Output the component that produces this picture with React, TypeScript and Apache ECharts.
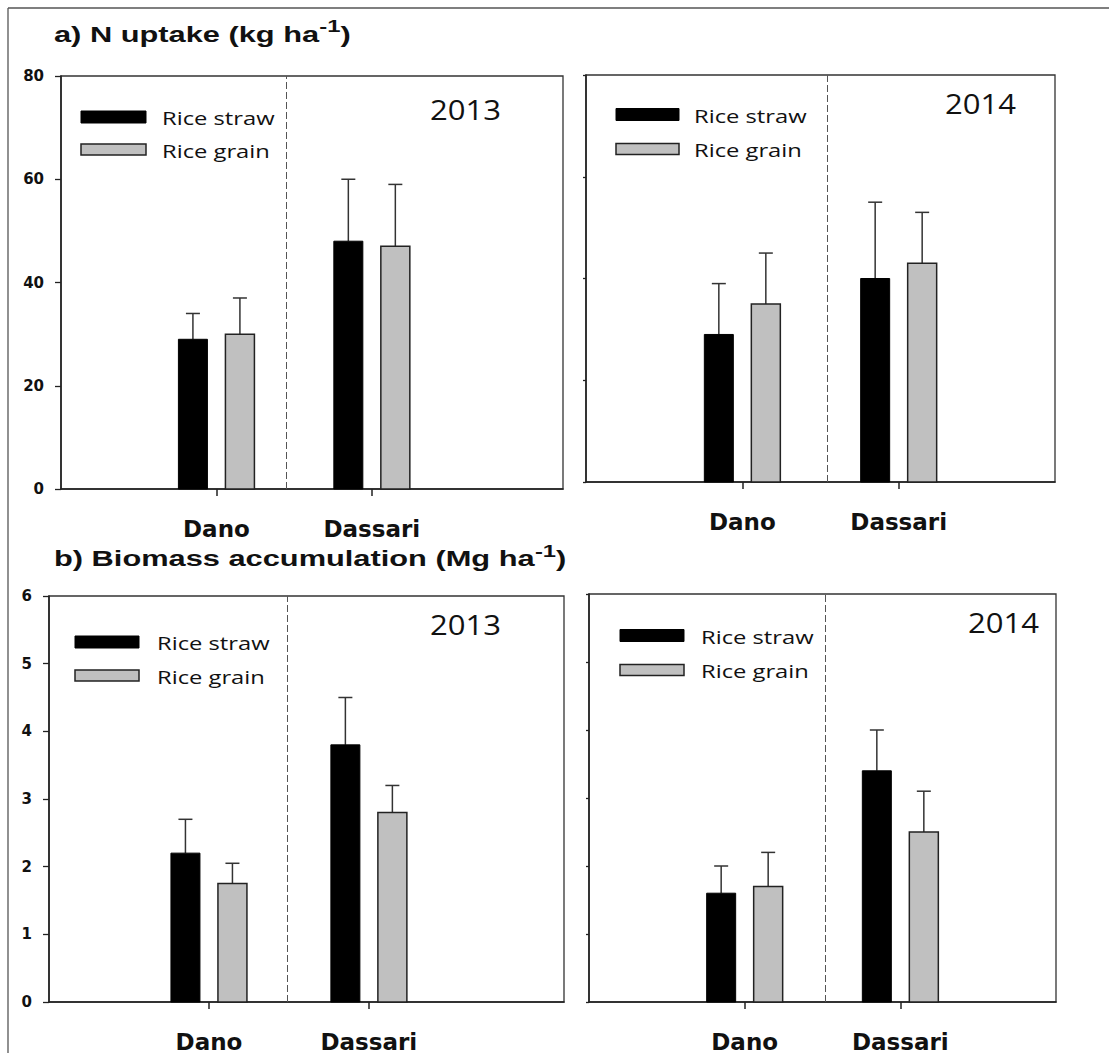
import React, { useEffect, useRef } from 'react';
import * as echarts from 'echarts';

// ---------- data ----------
const sites = ['Dano', 'Dassari'];
const sitePositions = [1, 2];
const seriesNames = ['Rice straw', 'Rice grain'];
const years = ['2013', '2014'];

// a) N uptake (kg ha-1): means and upper error (SE)
const nUptakeStraw2013 = [29, 48];
const nUptakeStraw2013SE = [5, 12];
const nUptakeGrain2013 = [30, 47];
const nUptakeGrain2013SE = [7, 12];
const nUptakeStraw2014 = [29, 40];
const nUptakeStraw2014SE = [10, 15];
const nUptakeGrain2014 = [35, 43];
const nUptakeGrain2014SE = [10, 10];

// b) Biomass accumulation (Mg ha-1)
const biomassStraw2013 = [2.2, 3.8];
const biomassStraw2013SE = [0.5, 0.7];
const biomassGrain2013 = [1.75, 2.8];
const biomassGrain2013SE = [0.3, 0.4];
const biomassStraw2014 = [1.6, 3.4];
const biomassStraw2014SE = [0.4, 0.6];
const biomassGrain2014 = [1.7, 2.5];
const biomassGrain2014SE = [0.5, 0.6];

// tick labels
const nUptakeTicks = [0, 20, 40, 60, 80];
const biomassTicks = [0, 1, 2, 3, 4, 5, 6];

const titleA = 'a) N uptake (kg ha';
const titleB = 'b) Biomass accumulation (Mg ha';

// ---------- layout ----------
const W = 1109;
const H = 1053;
const STRAW = '#000000';
const GRAIN = '#c0c0c0';
const EDGE = '#222222';

type Panel = {
  grid: { left: number; top: number; width: number; height: number };
  xMax: number;
  sep: number;
  ticks: number[];
  labels: boolean;
  straw: number[];
  strawSE: number[];
  grain: number[];
  grainSE: number[];
  year: string;
  yearPos: [number, number];
  legend: { x: number; w: number; y1: number; y2: number; tx: number };
};

const panels: Panel[] = [
  {
    grid: { left: 61, top: 76, width: 502, height: 413 },
    xMax: 3.23, sep: 1.45, ticks: nUptakeTicks, labels: true,
    straw: nUptakeStraw2013, strawSE: nUptakeStraw2013SE,
    grain: nUptakeGrain2013, grainSE: nUptakeGrain2013SE,
    year: years[0], yearPos: [430, 110],
    legend: { x: 81, w: 65, y1: 117, y2: 149.5, tx: 162 },
  },
  {
    grid: { left: 586, top: 75, width: 469, height: 407 },
    xMax: 3, sep: 1.54, ticks: nUptakeTicks, labels: false,
    straw: nUptakeStraw2014, strawSE: nUptakeStraw2014SE,
    grain: nUptakeGrain2014, grainSE: nUptakeGrain2014SE,
    year: years[1], yearPos: [945, 104],
    legend: { x: 616, w: 63, y1: 114.5, y2: 149, tx: 694 },
  },
  {
    grid: { left: 49, top: 596, width: 515, height: 407 },
    xMax: 3.22, sep: 1.49, ticks: biomassTicks, labels: true,
    straw: biomassStraw2013, strawSE: biomassStraw2013SE,
    grain: biomassGrain2013, grainSE: biomassGrain2013SE,
    year: years[0], yearPos: [430, 625],
    legend: { x: 75, w: 64, y1: 642, y2: 675.5, tx: 157 },
  },
  {
    grid: { left: 589, top: 594, width: 467, height: 408 },
    xMax: 3, sep: 1.52, ticks: biomassTicks, labels: false,
    straw: biomassStraw2014, strawSE: biomassStraw2014SE,
    grain: biomassGrain2014, grainSE: biomassGrain2014SE,
    year: years[1], yearPos: [968, 623],
    legend: { x: 620, w: 64, y1: 635.5, y2: 670, tx: 701 },
  },
];

function makeRenderItem(offsetPx: number, fill: string, stroke: boolean) {
  return (params: any, api: any) => {
    const x = api.value(0);
    const y = api.value(1);
    const e = api.value(2);
    const base = api.coord([x, 0]);
    const top = api.coord([x, y]);
    const errTop = api.coord([x, y + e]);
    const cx = base[0] + offsetPx;
    const w = 29;
    return {
      type: 'group',
      children: [
        {
          type: 'line',
          shape: { x1: cx, y1: top[1], x2: cx, y2: errTop[1] },
          style: { stroke: '#333', lineWidth: 1.5 },
        },
        {
          type: 'line',
          shape: { x1: cx - 7, y1: errTop[1], x2: cx + 7, y2: errTop[1] },
          style: { stroke: '#333', lineWidth: 1.5 },
        },
        {
          type: 'rect',
          shape: { x: cx - w / 2, y: top[1], width: w, height: base[1] - top[1] },
          style: stroke
            ? { fill, stroke: EDGE, lineWidth: 1.5 }
            : { fill, stroke: fill, lineWidth: 1 },
        },
      ],
    };
  };
}

function txt(x: number, y: number, text: string, size: number, family: string, weight: string, scaleX: number, extra: any = {}) {
  return {
    type: 'text',
    x,
    y,
    scaleX,
    style: {
      text,
      fontSize: size,
      fontFamily: family,
      fontWeight: weight,
      fill: '#111',
      align: 'left',
      verticalAlign: 'middle',
      ...extra,
    },
  };
}

function titleText(x: number, y: number, main: string) {
  return {
    type: 'text',
    x,
    y,
    scaleX: 1.4,
    style: {
      text: `{m|${main}}{s|-1}{m|)}`,
      align: 'left',
      verticalAlign: 'middle',
      rich: {
        m: {
          fontSize: 22,
          fontFamily: '"Liberation Sans", Arial, sans-serif',
          fontWeight: 'bold',
          fill: '#111',
          lineHeight: 28,
          verticalAlign: 'bottom',
        },
        s: {
          fontSize: 17,
          fontFamily: '"Liberation Sans", Arial, sans-serif',
          fontWeight: 'bold',
          fill: '#111',
          lineHeight: 18,
          verticalAlign: 'top',
        },
      },
    },
  };
}

function buildOption() {
  const grids: any[] = [];
  const xAxes: any[] = [];
  const yAxes: any[] = [];
  const series: any[] = [];
  const graphics: any[] = [];

  // outer frame (top and left)
  graphics.push({ type: 'line', shape: { x1: 8, y1: 8, x2: W, y2: 8 }, style: { stroke: '#555', lineWidth: 1.3 } });
  graphics.push({ type: 'line', shape: { x1: 8, y1: 8, x2: 8, y2: H }, style: { stroke: '#555', lineWidth: 1.3 } });

  graphics.push(titleText(54, 31.5, titleA));
  graphics.push(titleText(54, 556, titleB));

  panels.forEach((p, i) => {
    grids.push({ ...p.grid, show: true, borderColor: '#333', borderWidth: 1.3, backgroundColor: 'transparent', containLabel: false });
    xAxes.push({
      type: 'value',
      gridIndex: i,
      min: 0,
      max: p.xMax,
      axisLine: { show: true, onZero: false, lineStyle: { color: EDGE, width: 1.6 } },
      axisTick: { show: true, length: 7, customValues: sitePositions, lineStyle: { color: EDGE, width: 1.5 } },
      axisLabel: {
        show: true,
        customValues: sitePositions,
        formatter: (v: number) => sites[sitePositions.indexOf(v)] ?? '',
        fontFamily: '"DejaVu Sans", Verdana, sans-serif',
        fontWeight: 'bold',
        fontSize: 23,
        lineHeight: 23,
        color: '#111',
        margin: 28,
      },
      splitLine: { show: false },
    });
    const step = p.ticks[1] - p.ticks[0];
    yAxes.push({
      type: 'value',
      gridIndex: i,
      min: p.ticks[0],
      max: p.ticks[p.ticks.length - 1],
      interval: step,
      axisLine: { show: true, lineStyle: { color: EDGE, width: 1.6 } },
      axisTick: { show: true, length: p.labels ? 6 : 3, lineStyle: { color: EDGE, width: 1.3 } },
      axisLabel: {
        show: p.labels,
        fontFamily: '"DejaVu Sans", Verdana, sans-serif',
        fontWeight: 'bold',
        fontSize: 15,
        color: '#111',
        margin: 17,
      },
      splitLine: { show: false },
    });

    series.push({
      type: 'custom',
      name: seriesNames[0],
      xAxisIndex: i,
      yAxisIndex: i,
      renderItem: makeRenderItem(-23.5, STRAW, false),
      encode: { x: 0, y: 1 },
      data: sitePositions.map((pos, k) => [pos, p.straw[k], p.strawSE[k]]),
      markLine: {
        silent: true,
        symbol: ['none', 'none'],
        label: { show: false },
        lineStyle: { type: [7, 3], color: '#555', width: 1 },
        data: [{ xAxis: p.sep }],
      },
      z: 3,
    });
    series.push({
      type: 'custom',
      name: seriesNames[1],
      xAxisIndex: i,
      yAxisIndex: i,
      renderItem: makeRenderItem(23.5, GRAIN, true),
      encode: { x: 0, y: 1 },
      data: sitePositions.map((pos, k) => [pos, p.grain[k], p.grainSE[k]]),
      z: 3,
    });

    // legend (inside panel)
    const L = p.legend;
    graphics.push({ type: 'rect', shape: { x: L.x, y: L.y1 - 6, width: L.w, height: 12 }, style: { fill: STRAW, stroke: STRAW, lineWidth: 1 } });
    graphics.push({ type: 'rect', shape: { x: L.x, y: L.y2 - 5.5, width: L.w, height: 11 }, style: { fill: GRAIN, stroke: EDGE, lineWidth: 1.5 } });
    graphics.push(txt(L.tx, L.y1 + 1, seriesNames[0], 18, '"Open Sans", sans-serif', 'normal', 1.32));
    graphics.push(txt(L.tx, L.y2 + 1, seriesNames[1], 18, '"Open Sans", sans-serif', 'normal', 1.32));

    // year label
    graphics.push(txt(p.yearPos[0], p.yearPos[1], p.year, 27, '"Open Sans", sans-serif', 'normal', 1.15));
  });

  return {
    animation: false,
    backgroundColor: '#ffffff',
    grid: grids,
    xAxis: xAxes,
    yAxis: yAxes,
    series,
    graphic: graphics,
  };
}

export default function App() {
  const ref = useRef<HTMLDivElement>(null);
  useEffect(() => {
    if (!ref.current) return;
    const chart = echarts.init(ref.current, undefined, { renderer: 'svg' });
    chart.setOption(buildOption() as any);
    return () => chart.dispose();
  }, []);
  return (
    <div
      ref={ref}
      style={{ position: 'absolute', left: 0, top: 0, width: W, height: H, background: '#fff' }}
    />
  );
}
